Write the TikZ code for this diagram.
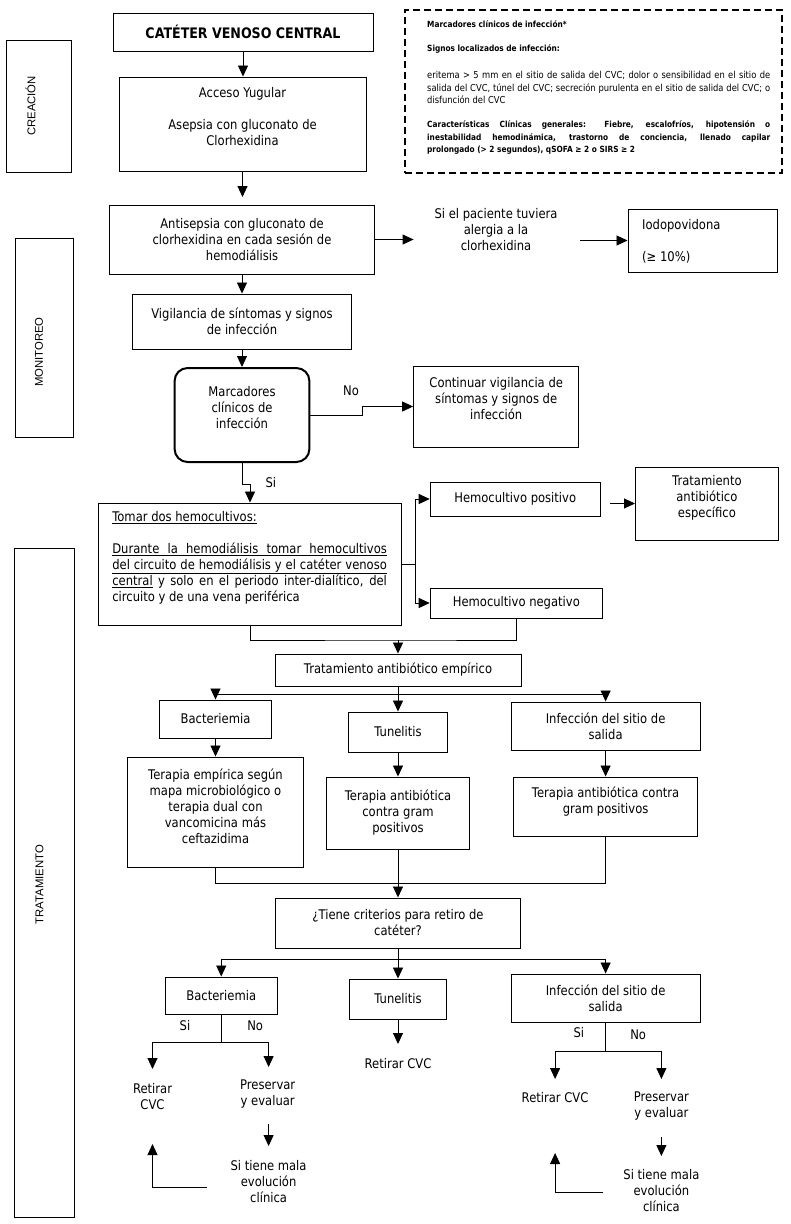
\documentclass[tikz,border=0pt]{standalone}
\usepackage{fontspec}
\setmainfont{DejaVu Sans}[FakeStretch=0.87]
\newfontfamily\stagefont{Liberation Sans}
\usetikzlibrary{arrows.meta}
\newcommand\mainsz{\fontsize{13.3}{16}\selectfont}
\newcommand\notesz{\fontsize{9.6}{12.5}\selectfont}
\newcommand\noteb{\fontsize{8.5}{12.5}\selectfont\bfseries}
\newcommand\titlesz{\fontsize{14.5}{17}\selectfont\bfseries}
\newcommand\jline[1]{\makebox[274.6pt][s]{#1}}
\begin{document}
\begin{tikzpicture}[x=1pt,y=-1pt,
  box/.style={draw, line width=0.95pt, inner sep=0pt, align=center, font=\mainsz},
  txt/.style={inner sep=0pt, align=center, font=\mainsz},
  arr/.style={line width=0.9pt, -{Triangle[length=11pt,width=10pt]}},
  ln/.style={line width=0.9pt},
  stagebox/.style={draw, line width=0.95pt, inner sep=0pt},
  stagetxt/.style={rotate=90, inner sep=0pt, font=\stagefont\fontsize{11.3}{13}\selectfont},
  dashbox/.style={draw, line width=1.3pt, dash pattern=on 7pt off 4pt, inner sep=0pt}]
\path[fill=white] (0,0) rectangle (791,1224);
\useasboundingbox (0,0) rectangle (791,1224);

% stage boxes
\node[stagebox, minimum width=65, minimum height=132] (creac) at (38.5,106) {};
\node[stagetxt] (creact) at (30.5,106) {CREACIÓN};
\node[stagebox, minimum width=58, minimum height=199] (moni) at (44,337.5) {};
\node[stagetxt] (monit) at (39,352) {MONITOREO};
\node[stagebox, minimum width=60, minimum height=669] (trat) at (44,882.5) {};
\node[stagetxt] (tratt) at (39.5,884.5) {TRATAMIENTO};

% note box
\node[dashbox, minimum width=377, minimum height=163] (dbox) at (593.5,91.5) {};
\node[anchor=north west, inner sep=0pt, text width=343pt, align=justify, font=\notesz] (dboxt) at (427,20.5) {%
{\noteb Marcadores clínicos de infección*}\\[11.5pt]
{\noteb Signos localizados de infección:}\\[14.5pt]
eritema > 5 mm en el sitio de salida del CVC; dolor o sensibilidad en el sitio de\linebreak
salida del CVC, túnel del CVC; secreción purulenta en el sitio de salida del CVC; o\linebreak
disfunción del CVC\\[11.5pt]
{\noteb Características Clínicas generales: Fiebre, escalofríos, hipotensión o\linebreak
inestabilidad hemodinámica, trastorno de conciencia, llenado capilar\linebreak
prolongado (> 2 segundos), qSOFA ≥ 2 o SIRS ≥ 2}};

% main column
\node[box, minimum width=260, minimum height=38, font=\titlesz] (title) at (243,32) {CATÉTER VENOSO CENTRAL};
\node[box, minimum width=247, minimum height=94] (acc) at (242.5,124) {};
\node[txt] (acct) at (242.5,116.7) {Acceso Yugular\\[16pt]Asepsia con gluconato de\\Clorhexidina};
\node[box, minimum width=265.7, minimum height=69] (anti) at (242,239.5) {Antisepsia con gluconato de\\clorhexidina en cada sesión de\\hemodiálisis};
\node[txt] (alerg) at (496,230) {Si el paciente tuviera\\alergia a la\\clorhexidina};
\node[box, minimum width=149.5, minimum height=63] (iodo) at (702.75,240.5) {};
\node[txt, align=left, anchor=west] (iodot) at (642,241.7) {Iodopovidona\\[16pt](≥ 10\%)};
\node[box, minimum width=218.6, minimum height=55] (vig) at (242,321.5) {Vigilancia de síntomas y signos\\de infección};
\node[box, rounded corners=13pt, line width=2pt, minimum width=134.8, minimum height=94] (marc) at (242,415) {};
\node[txt] (marct) at (242,408) {Marcadores\\clínicos de\\infección};
\node[box, minimum width=165.2, minimum height=81] (cont) at (496.2,406.5) {};
\node[txt] (contt) at (496.2,398.3) {Continuar vigilancia de\\síntomas y signos de\\infección};
\node[txt] (no0) at (351,391) {No};
\node[txt] (si0) at (270.8,483) {Si};
\node[box, minimum width=302.2, minimum height=122] (tomar) at (250,564) {};
\node[txt, align=left] (tomart) at (249.6,557.5) {%
\underline{Tomar dos hemocultivos:}\\[16pt]
\underline{\jline{Durante la hemodiálisis tomar hemocultivos}}\\
\underline{\jline{del circuito de hemodiálisis y el catéter venoso}}\\
\jline{\underline{central} y solo en el periodo inter-dialítico, del}\\
circuito y de una vena periférica};
\node[box, minimum width=170, minimum height=34] (hpos) at (515.2,499) {Hemocultivo positivo};
\node[box, minimum width=142.8, minimum height=73] (tae) at (706.9,503.5) {};
\node[txt] (taet) at (706.9,498.3) {Tratamiento\\antibiótico\\específico};
\node[box, minimum width=172.3, minimum height=30] (hneg) at (516.35,603) {Hemocultivo negativo};
\node[box, minimum width=246, minimum height=32] (emp) at (398,670) {Tratamiento antibiótico empírico};
\node[box, minimum width=112.5, minimum height=38] (bac1) at (215.5,719) {Bacteriemia};
\node[box, minimum width=98.2, minimum height=40] (tun1) at (398,732) {Tunelitis};
\node[box, minimum width=189.2, minimum height=48] (inf1) at (605.6,726) {Infección del sitio de\\salida};
\node[box, minimum width=176.8, minimum height=110] (ter1) at (215.5,812) {};
\node[txt] (ter1t) at (215.5,806.3) {Terapia empírica según\\mapa microbiológico o\\terapia dual con\\vancomicina más\\ceftazidima};
\node[box, minimum width=143.7, minimum height=72] (ter2) at (398,813) {Terapia antibiótica\\contra gram\\positivos};
\node[box, minimum width=183.9, minimum height=59] (ter3) at (605.6,806.5) {};
\node[txt] (ter3t) at (605.6,801.7) {Terapia antibiótica contra\\gram positivos};
\node[box, minimum width=245.9, minimum height=50] (crit) at (398,923) {¿Tiene criterios para retiro de\\catéter?};
\node[box, minimum width=112.5, minimum height=37] (bac2) at (221.25,995.5) {Bacteriemia};
\node[box, minimum width=97.7, minimum height=40] (tun2) at (398,999) {Tunelitis};
\node[box, minimum width=189.2, minimum height=48] (inf2) at (605.6,998) {Infección del sitio de\\salida};

% bottom texts
\node[txt] (si1) at (185,1026) {Si};
\node[txt] (no1) at (255.2,1026) {No};
\node[txt] (ret1) at (152.5,1097) {Retirar\\CVC};
\node[txt] (pres1) at (267.7,1094.5) {Preservar\\y evaluar};
\node[txt] (mala1) at (268.6,1182) {Si tiene mala\\evolución\\clínica};
\node[txt] (ret2) at (398,1064) {Retirar CVC};
\node[txt] (si2) at (578.8,1033) {Si};
\node[txt] (no2) at (638.2,1035) {No};
\node[txt] (ret3) at (555.1,1098) {Retirar CVC};
\node[txt] (pres2) at (661.4,1106) {Preservar\\y evaluar};
\node[txt] (mala2) at (661.4,1191) {Si tiene mala\\evolución\\clínica};

% coordinates
\coordinate (c1) at (242.5,197);
\coordinate (c2) at (413.6,239.5);
\coordinate (c3) at (580,240.5);
\coordinate (c4) at (610,503.5);
\coordinate (br) at (415,564);
\coordinate (m1) at (398,640);
\coordinate (s1) at (398,694);
\coordinate (m2) at (398,883);
\coordinate (s2) at (398,959);
\coordinate (s3) at (221.25,1042);
\coordinate (r1) at (152.5,1069);
\coordinate (p1) at (268.6,1067);
\coordinate (a1s) at (268.6,1124);
\coordinate (a1e) at (268.6,1146);
\coordinate (b1s) at (207,1187);
\coordinate (b1e) at (152.5,1144);
\coordinate (t2e) at (398,1044);
\coordinate (s4) at (605.6,1051);
\coordinate (r3) at (555.1,1079);
\coordinate (p3) at (661.4,1079);
\coordinate (a2s) at (661.4,1137);
\coordinate (a2e) at (661.4,1156);
\coordinate (b2s) at (602.5,1192);
\coordinate (b2e) at (555.1,1153);

% connectors
\draw[arr] (title.south) -- (title.south |- acc.north);
\draw[arr] (acc.south) -- (c1);
\draw[arr] (anti.east) -- (c2);
\draw[arr] (c3) -- (iodo.west);
\draw[arr] (anti.south) -- (vig.north);
\draw[arr] (vig.south) -- (marc.north);
\draw[arr] (marc.east) -- ++(51.8,0) |- (cont.west);
\draw[arr] (marc.south) -- ++(0,21) -| (tomar.north);
\draw[ln] (tomar.east) -- (br);
\draw[arr] (br) |- (hpos.west);
\draw[arr] (br) |- (hneg.west);
\draw[arr] (c4) -- (tae.west);
\draw[ln] (tomar.south) |- (m1) -| (hneg.south);
\draw[arr] (m1) -- (emp.north);
\draw[ln] (emp.south) -- (s1);
\draw[arr] (s1) -| (bac1.north);
\draw[arr] (s1) -- (tun1.north);
\draw[arr] (s1) -| (inf1.north);
\draw[arr] (bac1.south) -- (ter1.north);
\draw[arr] (tun1.south) -- (ter2.north);
\draw[arr] (inf1.south) -- (ter3.north);
\draw[ln] (ter1.south) |- (m2) -| (ter3.south);
\draw[arr] (ter2.south) -- (crit.north);
\draw[ln] (crit.south) -- (s2);
\draw[arr] (s2) -| (bac2.north);
\draw[arr] (s2) -- (tun2.north);
\draw[arr] (s2) -| (inf2.north);
\draw[ln] (bac2.south) -- (s3);
\draw[arr] (s3) -| (r1);
\draw[arr] (s3) -| (p1);
\draw[arr] (a1s) -- (a1e);
\draw[arr] (b1s) -| (b1e);
\draw[arr] (tun2.south) -- (t2e);
\draw[ln] (inf2.south) -- (s4);
\draw[arr] (s4) -| (r3);
\draw[arr] (s4) -| (p3);
\draw[arr] (a2s) -- (a2e);
\draw[arr] (b2s) -| (b2e);
\end{tikzpicture}
\end{document}
